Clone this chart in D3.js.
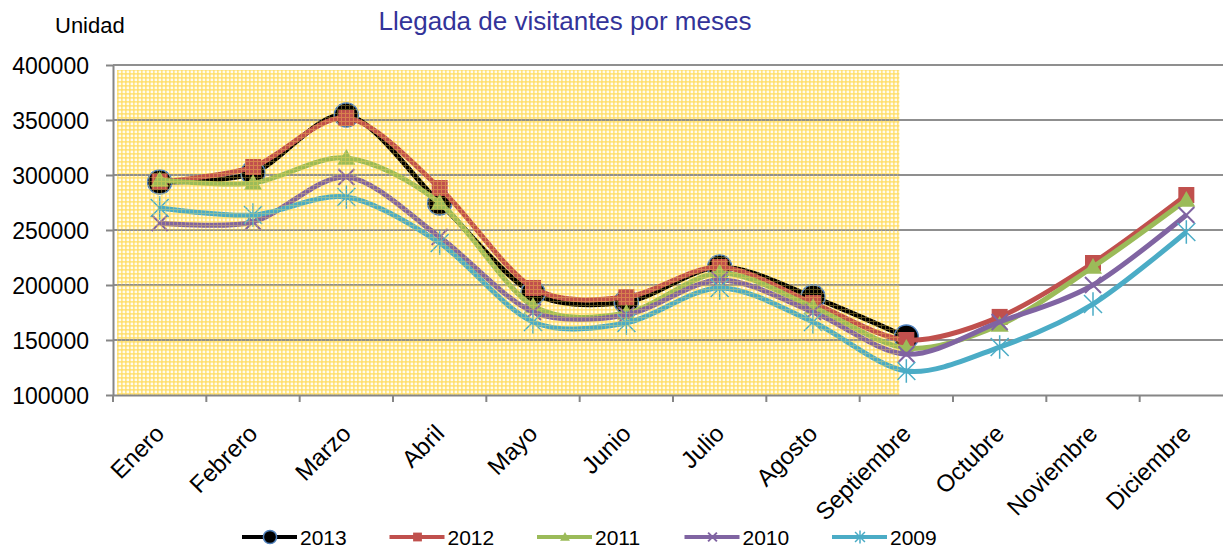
<!DOCTYPE html>
<html>
<head>
    <title>Llegada de visitantes por meses</title>
    <script src="https://d3js.org/d3.v7.min.js"></script>
    <style>
        body { margin:0; background:white; }
        text { font-family: "Liberation Sans", Arial, sans-serif; fill:#000; }
        .grid line { stroke:#8f8f8f; stroke-width:2; }
        .axis path, .axis line { stroke:#868686; stroke-width:2; }
        .axis text { font-size:23px; }
        .axis text.lab { font-size:24px; }
        .series path.line { fill:none; stroke-width:5; }
    </style>
</head>
<body>
    <script>
        var months = ["Enero","Febrero","Marzo","Abril","Mayo","Junio","Julio","Agosto","Septiembre","Octubre","Noviembre","Diciembre"];
        var years = ["2013","2012","2011","2010","2009"];
        var v2013 = [293600,301800,354500,274500,192700,184500,216400,189000,152700];
        var v2012 = [294000,307300,351800,288200,197300,189000,216400,183600,150000,171000,220000,281800];
        var v2011 = [295500,292700,315500,274500,181000,174500,211000,180000,142700,163600,216400,277300];
        var v2010 = [256400,257300,298200,243600,175500,172700,204500,175500,137000,166400,200000,263600];
        var v2009 = [270000,263600,280000,238200,166400,165500,197300,166400,121800,143600,182700,248200];
        var yTicks = [100000,150000,200000,250000,300000,350000,400000];
        var colors = ["#000000","#C0504D","#9BBB59","#8064A2","#4BACC6"];
        var series = [v2013, v2012, v2011, v2010, v2009];

        var svg = d3.select("body").append("svg")
                    .attr("width",1223).attr("height",548);

        var x = d3.scaleBand().domain(months).range([113,1233]);
        var y = d3.scaleLinear().domain([100000,400000]).range([395,65]);
        var cx = function(i){ return x(months[i]) + x.bandwidth()/2; };

        // patterns
        var defs = svg.append("defs");
        var pat = defs.append("pattern").attr("id","yel").attr("patternUnits","userSpaceOnUse")
                    .attr("width",4).attr("height",4);
        pat.append("rect").attr("width",4).attr("height",4).attr("fill","#FFFCEE");
        pat.append("rect").attr("x",0).attr("y",1).attr("width",4).attr("height",2).attr("fill","#FFD95A").attr("opacity",0.5);
        pat.append("rect").attr("x",1).attr("y",0).attr("width",2).attr("height",4).attr("fill","#FFD95A").attr("opacity",0.5);
        var pat2 = defs.append("pattern").attr("id","yel2").attr("patternUnits","userSpaceOnUse")
                    .attr("width",4).attr("height",4);
        pat2.append("rect").attr("x",0).attr("y",1).attr("width",4).attr("height",1).attr("fill","#FFD84E");
        pat2.append("rect").attr("x",1).attr("y",0).attr("width",1).attr("height",4).attr("fill","#FFD84E");

        var shadeX0 = 117, shadeX1 = cx(8) - 7;

        svg.append("rect").attr("x",shadeX0).attr("y",70)
            .attr("width",shadeX1-shadeX0).attr("height",y(100000)-70)
            .attr("fill","url(#yel)");

        // gridlines
        svg.append("g").attr("class","grid").selectAll("line")
            .data(yTicks.slice(1)).enter().append("line")
            .attr("x1",113).attr("x2",1223)
            .attr("y1",function(d){return y(d);}).attr("y2",function(d){return y(d);});

        // axes
        var yAxis = svg.append("g").attr("class","axis").attr("transform","translate(113,0)")
            .call(d3.axisLeft(y).tickValues(yTicks).tickSize(7).tickSizeOuter(0).tickPadding(17).tickFormat(d3.format("d")));
        yAxis.selectAll("text").attr("dy","0.36em");

        var xAxis = svg.append("g").attr("class","axis").attr("transform","translate(0,395)")
            .call(d3.axisBottom(x).tickSize(0).tickSizeOuter(0));
        xAxis.selectAll(".tick text").remove();
        xAxis.selectAll(".tick line").remove();
        xAxis.selectAll("line.sep").data(months).enter().append("line").attr("class","sep")
            .attr("x1",function(d){return x(d);}).attr("x2",function(d){return x(d);})
            .attr("y1",0).attr("y2",7);
        xAxis.selectAll("text.lab").data(months).enter().append("text").attr("class","lab")
            .attr("text-anchor","end")
            .attr("transform",function(d){return "translate(" + (x(d)+x.bandwidth()/2+6) + ",40) rotate(-45)";})
            .text(function(d){return d;});

        // markers
        function marker(g, k, px, py, s){
            var c = colors[k];
            if(k==0){
                g.append("circle").attr("cx",px).attr("cy",py).attr("r",s*12)
                    .attr("fill","#000").attr("stroke","#4F81BD").attr("stroke-width",1.5);
            } else if(k==1){
                var h = s*8;
                g.append("rect").attr("x",px-h).attr("y",py-h).attr("width",2*h).attr("height",2*h).attr("fill",c);
            } else if(k==2){
                var t = s*9;
                g.append("path").attr("d","M"+px+","+(py-t)+"L"+(px+t)+","+(py+t*0.75)+"L"+(px-t)+","+(py+t*0.75)+"Z").attr("fill",c);
            } else if(k==3){
                var a = s*8;
                g.append("path").attr("d","M"+(px-a)+","+(py-a)+"L"+(px+a)+","+(py+a)+"M"+(px-a)+","+(py+a)+"L"+(px+a)+","+(py-a))
                    .attr("stroke",c).attr("stroke-width",2).attr("fill","none");
            } else {
                var b = s*9;
                g.append("path").attr("d","M"+(px-b)+","+(py-b)+"L"+(px+b)+","+(py+b)+"M"+(px-b)+","+(py+b)+"L"+(px+b)+","+(py-b)+"M"+px+","+(py-b*1.3)+"L"+px+","+(py+b*1.3))
                    .attr("stroke",c).attr("stroke-width",1.5).attr("fill","none");
            }
        }

        var line = d3.line().x(function(d,i){return cx(i);}).y(function(d){return y(d);})
                    .curve(d3.curveCardinal.tension(0.1));

        series.forEach(function(vals,k){
            var g = svg.append("g").attr("class","series");
            g.append("path").attr("class","line").attr("d",line(vals)).attr("stroke",colors[k]);
            vals.forEach(function(v,i){ marker(g,k,cx(i),y(v),1); });
        });

        // texture over the shaded months
        svg.append("rect").attr("x",shadeX0).attr("y",70)
            .attr("width",shadeX1-shadeX0).attr("height",y(100000)-70)
            .attr("fill","url(#yel2)").attr("opacity",0.35);

        // titles
        svg.append("text").attr("x",565).attr("y",30).attr("text-anchor","middle")
            .style("font-size","26px").style("fill","#333399").text("Llegada de visitantes por meses");
        svg.append("text").attr("x",55).attr("y",33).style("font-size","22px").text("Unidad");

        // legend
        var legend = svg.append("g").selectAll("g").data(years).enter().append("g")
            .attr("transform",function(d,i){return "translate(" + (242 + i*147.5) + ",537)";});
        legend.append("line").attr("x1",0).attr("x2",55).attr("y1",0).attr("y2",0)
            .attr("stroke",function(d,i){return colors[i];}).attr("stroke-width",4);
        legend.each(function(d,i){ marker(d3.select(this), i, 28, 0, 0.55); });
        legend.append("text").attr("x",58).attr("y",0).attr("dy","0.36em")
            .style("font-size","21px").text(function(d){return d;});
    </script>
</body>
</html>
